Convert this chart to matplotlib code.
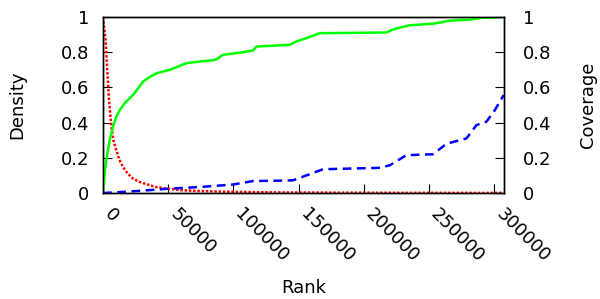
import matplotlib
matplotlib.use("Agg")
import matplotlib.pyplot as plt
import matplotlib.transforms as mtransforms

# Density (red, left axis)
density_rank = [0, 1000, 2000, 3100, 4600, 6400, 8000, 10200, 12500, 15300, 19000, 23000,
                28000, 33300, 40000, 48600, 60000, 74200, 90000, 105000, 125000, 143000,
                180000, 230000, 307000]
density_val = [1.0, 0.93, 0.87, 0.72, 0.53, 0.376, 0.30, 0.243, 0.19, 0.148, 0.11, 0.082,
               0.063, 0.05, 0.035, 0.025, 0.016, 0.011, 0.008, 0.006, 0.004, 0.003,
               0.002, 0.001, 0.0005]

# Coverage (green, right axis)
cov_rank = [0, 1500, 3000, 5100, 7700, 10000, 12800, 16600, 20000, 23000, 27000, 30700,
            36000, 41000, 46000, 51200, 58000, 64000, 74200, 85000, 87000, 92000, 107400,
            115000, 117700, 143200, 148300, 156000, 166200, 217400, 222500, 235200,
            253100, 266000, 281300, 289000, 306800]
cov_val = [0.0, 0.13, 0.21, 0.30, 0.376, 0.43, 0.47, 0.51, 0.535, 0.557, 0.595, 0.633,
           0.66, 0.68, 0.69, 0.70, 0.72, 0.738, 0.747, 0.755, 0.76, 0.785, 0.80,
           0.81, 0.832, 0.842, 0.861, 0.88, 0.908, 0.912, 0.93, 0.953,
           0.962, 0.979, 0.985, 0.994, 1.0]

# Blue dashed (right axis)
blue_rank = [0, 15300, 33300, 51200, 74200, 99700, 115000, 135500, 145700, 156000,
             168700, 212400, 220000, 232700, 253100, 263400, 278700, 286400, 294000,
             300400, 307300]
blue_val = [0.0, 0.006, 0.015, 0.025, 0.034, 0.048, 0.068, 0.070, 0.072, 0.10,
            0.135, 0.143, 0.158, 0.215, 0.22, 0.28, 0.31, 0.386, 0.405,
            0.47, 0.557]

xticks = [0, 50000, 100000, 150000, 200000, 250000, 300000]
yticks = [0, 0.2, 0.4, 0.6, 0.8, 1]
ytick_labels = ["0", "0.2", "0.4", "0.6", "0.8", "1"]

plt.rcParams['font.family'] = ['DejaVu Sans']
FS = 13
fig = plt.figure(figsize=(6.0, 2.99), dpi=100)
ax = fig.add_axes([103/600, 106/299, (504-103)/600, (193-17)/299])
ax2 = ax.twinx()

ax.plot(density_rank, density_val, color='#ff0000', lw=1.8, linestyle=(0, (1, 0.7)))
ax2.plot(cov_rank, cov_val, color='#00ff00', lw=1.8, linestyle='-')
ax2.plot(blue_rank, blue_val, color='#0000ff', lw=1.8, linestyle=(0, (3.5, 2.2)))

for a in (ax, ax2):
    a.set_xlim(0, 307500)
    a.set_ylim(0, 1)
    a.set_yticks(yticks)
    a.set_yticklabels(ytick_labels)
    for s in a.spines.values():
        s.set_linewidth(1.0)

ax.set_xticks(xticks)
ax.set_xticklabels([str(t) for t in xticks], rotation=-45, ha='left', va='center',
                   rotation_mode='anchor', fontsize=FS)
ax.tick_params(axis='x', direction='in', length=6.5, width=0.8, top=False, pad=13.4)
offset = mtransforms.ScaledTranslation(4.6/100, 0, fig.dpi_scale_trans)
for lab in ax.get_xticklabels():
    lab.set_transform(lab.get_transform() + offset)

ax.tick_params(axis='y', direction='in', length=6.5, width=0.8, labelsize=FS, pad=10)
ax2.tick_params(axis='y', direction='in', length=6.5, width=0.8, labelsize=FS, pad=13.7)

ax.set_xlabel("Rank", fontsize=FS, labelpad=9)
ax.set_ylabel("Density", fontsize=FS, labelpad=25)
ax2.set_ylabel("Coverage", fontsize=FS, labelpad=20)

fig.savefig("out.png", dpi=100)
